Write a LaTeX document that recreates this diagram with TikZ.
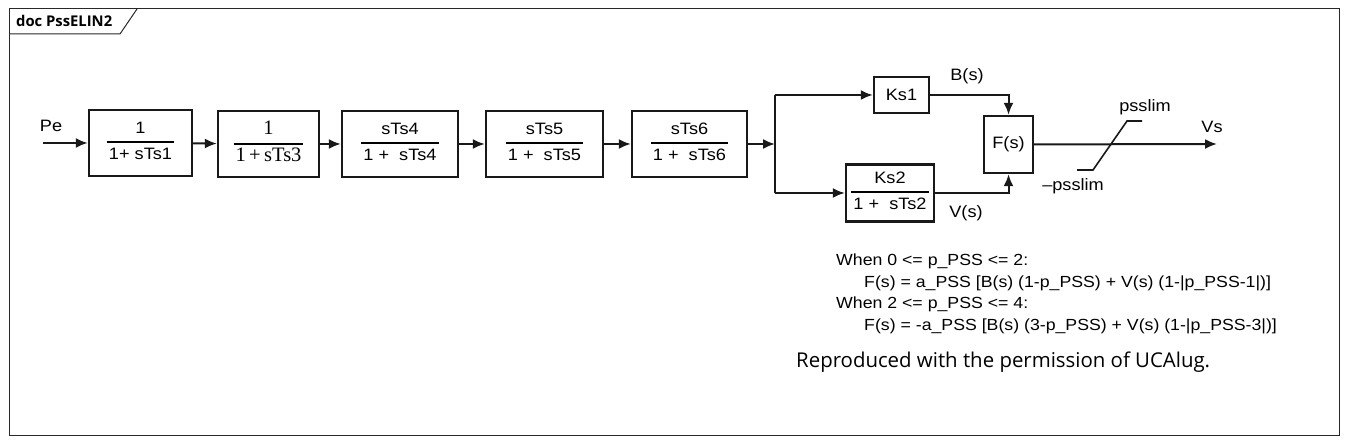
\documentclass[tikz,border=0pt]{standalone}
\usepackage{fontspec}
\usepackage{xcolor}
\setmainfont[FakeStretch=1.1]{Liberation Sans}
\newfontfamily\uifont{Open Sans}
\newfontfamily\romanfont{Liberation Serif}
\usetikzlibrary{shapes.geometric, arrows, arrows.meta, positioning, calc}
\definecolor{inkgray}{RGB}{25,25,25}
\definecolor{framegray}{RGB}{40,40,40}
\setlength{\arrayrulewidth}{1.5pt}
\newcommand{\blockfrac}[2]{\begin{tabular}{@{\hspace{2pt}}c@{\hspace{2pt}}}#1\\[2pt]\hline\rule{0pt}{17pt}#2\end{tabular}}

\begin{document}
\begin{tikzpicture}[x=1pt, y=-1pt, >={Latex[length=12pt,width=10pt]},
  block/.style={draw=inkgray, line width=2.4pt, minimum height=66pt, inner sep=0pt, font=\fontsize{16.5}{18}\selectfont},
  wire/.style={draw=inkgray, line width=2pt},
  flow/.style={wire, ->},
  sig/.style={font=\fontsize{16.5}{18}\selectfont, inner sep=0pt}]
\useasboundingbox (0,0) rectangle (1348,443);
% Frame and tab
\draw[framegray, line width=1pt] (9,9) rectangle (1339,435);
\draw[framegray, line width=1pt] (9,34) -- (120,34) -- (137,9);
\node[anchor=west, inner sep=0pt, font=\uifont\bfseries\fontsize{14.8}{16}\selectfont] (title) at (16,21) {doc PssELIN2};

% Lead-lag chain
\coordinate (pein) at (43,143);
\node[block, minimum width=103pt] (tf1) at (140.5,143) {\blockfrac{1}{1+ sTs1}};
\node[block, minimum width=101pt, font=\romanfont\fontsize{20.5}{22}\selectfont] (tf2) at (268.5,144) {\blockfrac{1}{1\,+\,sTs3}};
\node[block, minimum width=116pt] (tf3) at (400,144) {\blockfrac{sTs4}{1 +~ sTs4}};
\node[block, minimum width=117pt] (tf4) at (544.5,144) {\blockfrac{sTs5}{1 +~ sTs5}};
\node[block, minimum width=115pt] (tf5) at (689.5,144) {\blockfrac{sTs6}{1 +~ sTs6}};
\node[sig] (pe) at (51,126) {Pe};
\draw[flow] (pein) -- (tf1);
\draw[flow] (tf1) -- (tf2);
\draw[flow] (tf2) -- (tf3);
\draw[flow] (tf3) -- (tf4);
\draw[flow] (tf4) -- (tf5);

% Two branches
\coordinate (split) at (775,144);
\node[block, minimum width=55pt, minimum height=36pt] (ks1) at (901.5,95) {Ks1};
\node[block, minimum width=88pt, minimum height=57pt] (ks2) at (890,193) {\blockfrac{Ks2}{1 +~ sTs2}};
\node[block, minimum width=49pt, minimum height=57pt] (fs) at (1008.5,144.5) {F(s)};
\draw[flow] (tf5) -- (split);
\draw[wire] (split |- ks1) -- (split |- ks2);
\draw[flow] (split |- ks1) -- (ks1);
\draw[flow] (split |- ks2) -- (ks2);
\draw[flow] (ks1) -- (ks1 -| fs) -- (fs);
\draw[flow] (ks2) -- (ks2 -| fs) -- (fs);
\node[sig] (bs) at (967,76) {B(s)};
\node[sig] (vs) at (966,213) {V(s)};

% Output limiter
\coordinate (vsout) at (1217,144);
\draw[flow] (fs) -- (vsout);
\draw[wire, line width=1.6pt] (1077,170) -- (1093,170) -- (1127,121) -- (1142,121);
\node[sig] (hilim) at (1145,107) {psslim};
\node[sig] (lolim) at (1073,186) {--psslim};
\node[sig] (vslab) at (1212,127) {Vs};

% Notes
\node[anchor=north west, align=left, inner sep=0pt, font=\fontsize{16.1}{21.5}\selectfont] (rules) at (836,254) {When 0 <= p\_PSS <= 2:\\
\hspace*{28pt}F(s) = a\_PSS [B(s) (1-p\_PSS) + V(s) (1-|p\_PSS-1|)]\\
When 2 <= p\_PSS <= 4:\\
\hspace*{28pt}F(s) = -a\_PSS [B(s) (3-p\_PSS) + V(s) (1-|p\_PSS-3|)]};
\node[anchor=west, inner sep=0pt, font=\uifont\fontsize{20.4}{22}\selectfont] (credit) at (796,362) {Reproduced with the permission of UCAlug.};
\end{tikzpicture}
\end{document}
